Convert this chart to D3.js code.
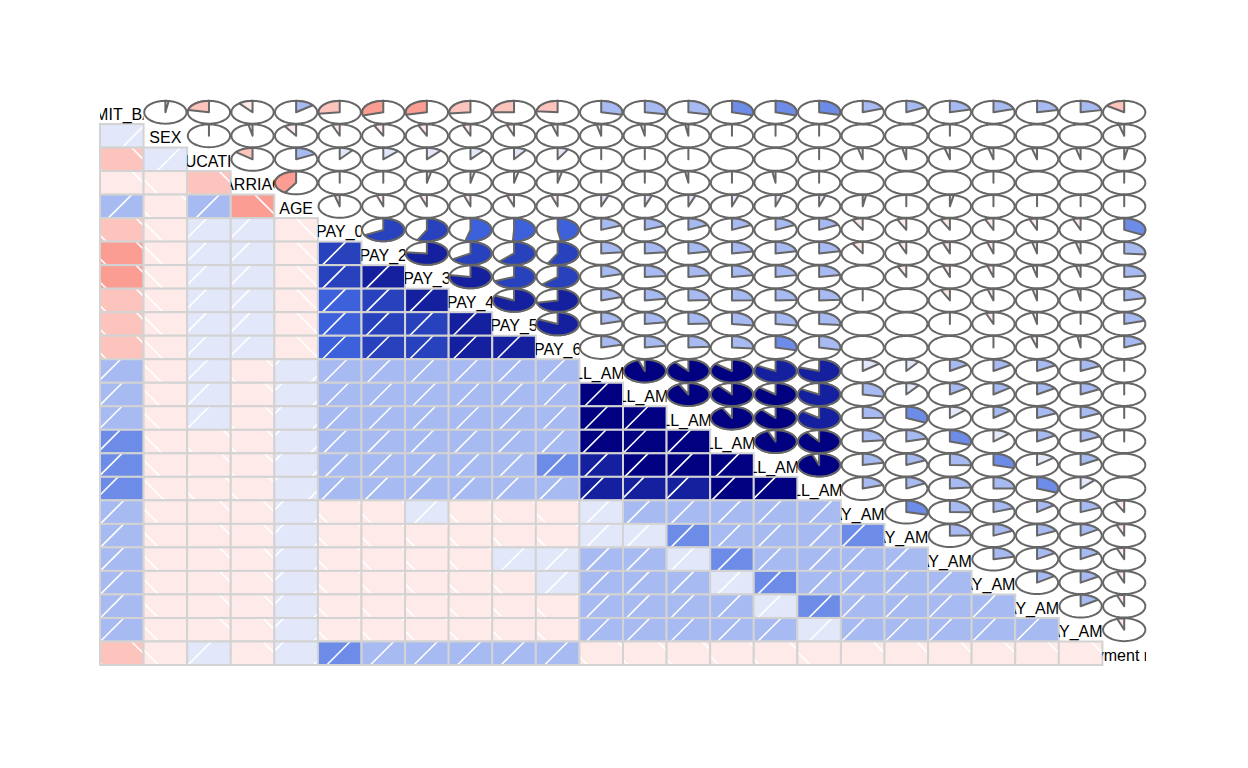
<!DOCTYPE html>
<html><head><meta charset="utf-8">
<script src="https://cdn.jsdelivr.net/npm/d3@7"></script>
<style>body{margin:0;background:#fff} svg{display:block}</style>
</head><body>
<svg id="chart" width="1248" height="768"></svg>
<script>
const varNames = ["LIMIT_BAL","SEX","EDUCATION","MARRIAGE","AGE","PAY_0","PAY_2","PAY_3","PAY_4","PAY_5","PAY_6",
  "BILL_AMT1","BILL_AMT2","BILL_AMT3","BILL_AMT4","BILL_AMT5","BILL_AMT6",
  "PAY_AMT1","PAY_AMT2","PAY_AMT3","PAY_AMT4","PAY_AMT5","PAY_AMT6","default payment next month"];
// data ranges of each variable (used by the hatching, as R computes it from the panel's user coordinates)
const varMin = [10000,1,0,0,21,-2,-2,-2,-2,-2,-2,-165580,-69777,-157264,-170000,-81334,-339603,0,0,0,0,0,0,0];
const varMax = [1000000,2,6,3,79,8,8,8,8,8,8,964511,983931,1664089,891586,927171,961664,873552,1684259,896040,621000,426529,528666,1];
// lower triangle of the correlation matrix: row i holds cor with variables 0..i-1
const corrLower = [
  [],
  [0.025],
  [-0.219,0.014],
  [-0.108,-0.031,-0.143],
  [0.145,-0.091,0.175,-0.414],
  [-0.271,-0.058,0.105,0.020,-0.039],
  [-0.296,-0.071,0.122,0.024,-0.050,0.672],
  [-0.286,-0.066,0.114,0.033,-0.053,0.574,0.767],
  [-0.267,-0.060,0.109,0.033,-0.050,0.539,0.662,0.777],
  [-0.249,-0.055,0.097,0.035,-0.054,0.509,0.623,0.687,0.820],
  [-0.235,-0.044,0.082,0.034,-0.049,0.475,0.576,0.633,0.717,0.817],
  [0.285,-0.034,0.023,-0.023,0.056,0.187,0.235,0.208,0.203,0.207,0.211],
  [0.278,-0.031,0.018,-0.022,0.054,0.190,0.235,0.237,0.226,0.227,0.227,0.951],
  [0.283,-0.025,0.013,-0.025,0.054,0.180,0.224,0.227,0.245,0.243,0.241,0.892,0.928],
  [0.294,-0.022,-0.0001,-0.023,0.051,0.179,0.222,0.227,0.246,0.272,0.266,0.860,0.892,0.924],
  [0.296,-0.017,-0.008,-0.025,0.049,0.181,0.221,0.225,0.243,0.270,0.291,0.830,0.860,0.884,0.940],
  [0.290,-0.017,-0.009,-0.021,0.048,0.177,0.219,0.223,0.239,0.263,0.285,0.803,0.832,0.853,0.901,0.946],
  [0.195,-0.0003,-0.037,-0.006,0.026,-0.079,-0.081,0.001,-0.009,-0.006,-0.001,0.140,0.280,0.245,0.233,0.217,0.200],
  [0.178,-0.001,-0.030,-0.008,0.022,-0.070,-0.059,-0.067,-0.002,-0.004,-0.005,0.099,0.101,0.317,0.208,0.181,0.173,0.286],
  [0.210,-0.009,-0.040,-0.004,0.029,-0.071,-0.056,-0.053,-0.069,0.009,0.006,0.157,0.151,0.130,0.300,0.252,0.234,0.252,0.245],
  [0.203,-0.002,-0.038,-0.012,0.021,-0.064,-0.047,-0.046,-0.044,-0.058,0.019,0.158,0.147,0.143,0.130,0.293,0.250,0.196,0.180,0.216],
  [0.217,-0.002,-0.040,-0.001,0.023,-0.058,-0.037,-0.036,-0.034,-0.033,-0.046,0.167,0.158,0.180,0.160,0.142,0.308,0.148,0.181,0.159,0.152],
  [0.220,-0.003,-0.037,-0.007,0.019,-0.059,-0.037,-0.036,-0.027,-0.023,-0.025,0.179,0.174,0.182,0.178,0.164,0.115,0.186,0.158,0.163,0.158,0.155],
  [-0.154,-0.040,0.028,-0.024,0.014,0.325,0.264,0.235,0.217,0.204,0.187,-0.020,-0.014,-0.014,-0.010,-0.007,-0.005,-0.073,-0.059,-0.056,-0.057,-0.055,-0.053]
];

const svg = d3.select("#chart");
const n = varNames.length;
const gx = d3.scaleBand().domain(d3.range(n)).range([100, 1146]);
const gy = d3.scaleBand().domain(d3.range(n)).range([100.5, 665]);
const bw = gx.bandwidth(), bh = gy.bandwidth();

const ramp = d3.piecewise(d3.interpolateRgb, ["red","salmon","white","royalblue","navy"]);
const pal = d3.range(14).map(k => ramp(k / 13));
const colorOf = d3.scaleQuantize().domain([-1, 1]).range(pal);
const corr = (i, j) => i > j ? corrLower[i][j] : corrLower[j][i];

const HATCH = 53; // horizontal spacing of 45° hatch lines (px)
const defs = svg.append("defs");

// ---------- lower panels: shade ----------
const lower = svg.append("g");
for (let i = 0; i < n; i++) for (let j = 0; j < i; j++) {
  const r = corr(i, j);
  const L = gx(j), R = L + bw, T = gy(i), B = T + bh;
  const g = lower.append("g");
  g.append("rect").attr("x", L).attr("y", T).attr("width", bw).attr("height", bh)
    .attr("fill", colorOf(r));
  const ex = (varMax[j] - varMin[j]) * 0.04, ey = (varMax[i] - varMin[i]) * 0.04;
  const xs = d3.scaleLinear().domain([varMin[j] - ex, varMax[j] + ex]).range([L, R]);
  const ys = d3.scaleLinear().domain([varMin[i] - ey, varMax[i] + ey]).range([B, T]);
  const px0 = xs(0), py0 = ys(0);
  const segs = [];
  if (r > 0) {
    const c0 = px0 + py0, cmin = L + T, cmax = R + B;
    for (let k = Math.ceil((cmin - c0) / HATCH); c0 + k * HATCH <= cmax; k++) {
      const c = c0 + k * HATCH;
      const xa = Math.max(L, c - B), xb = Math.min(R, c - T);
      if (xb > xa) segs.push([xa, c - xa, xb, c - xb]);
    }
  } else {
    const c0 = px0 - py0, cmin = L - B, cmax = R - T;
    for (let k = Math.ceil((cmin - c0) / HATCH); c0 + k * HATCH <= cmax; k++) {
      const c = c0 + k * HATCH;
      const xa = Math.max(L, c + T), xb = Math.min(R, c + B);
      if (xb > xa) segs.push([xa, xa - c, xb, xb - c]);
    }
  }
  g.selectAll("line").data(segs).join("line")
    .attr("x1", d => d[0]).attr("y1", d => d[1]).attr("x2", d => d[2]).attr("y2", d => d[3])
    .attr("stroke", "white").attr("stroke-width", 1.6);
  g.append("rect").attr("x", L).attr("y", T).attr("width", bw).attr("height", bh)
    .attr("fill", "none").attr("stroke", "#d3d3d3").attr("stroke-width", 2);
}

// ---------- upper panels: pie ----------
const upper = svg.append("g");
const lineGen = d3.line();
for (let i = 0; i < n; i++) for (let j = i + 1; j < n; j++) {
  const r = corr(i, j);
  const cx = gx(j) + bw / 2, cy = gy(i) + bh / 2;
  const rx = bw / 2 * 0.97, ry = bh / 2 * 0.97;
  const circ = d3.range(61).map(k => {
    const a = k / 60 * 2 * Math.PI;
    return [cx + Math.cos(a) * rx, cy - Math.sin(a) * ry];
  });
  upper.append("path").attr("d", lineGen(circ)).attr("fill", "none")
    .attr("stroke", "#666").attr("stroke-width", 2);
  const segs = Math.round(60 * Math.abs(r));
  if (segs > 0) {
    const a0 = Math.PI / 2, a1 = Math.PI / 2 - 2 * Math.PI * r;
    const pts = d3.range(segs).map(k => {
      const a = segs === 1 ? a0 : a0 + (a1 - a0) * k / (segs - 1);
      return [cx + Math.cos(a) * rx, cy - Math.sin(a) * ry];
    });
    pts.push([cx, cy]);
    upper.append("path").attr("d", lineGen(pts) + "Z")
      .attr("fill", colorOf(r)).attr("stroke", "#666").attr("stroke-width", 2)
      .attr("stroke-linejoin", "round");
  }
}

// ---------- diagonal: labels ----------
const diag = svg.append("g");
varNames.forEach((name, i) => {
  const id = "clip" + i;
  defs.append("clipPath").attr("id", id).append("rect")
    .attr("x", gx(i)).attr("y", gy(i)).attr("width", bw).attr("height", bh);
  diag.append("text")
    .attr("clip-path", `url(#${id})`)
    .attr("x", gx(i) + bw / 2).attr("y", gy(i) + bh / 2).attr("dy", "0.47em")
    .attr("text-anchor", "middle")
    .attr("font-family", "'Liberation Sans', Arial, sans-serif").attr("font-size", 16)
    .attr("fill", "#000").text(name);
});
</script>
</body></html>
